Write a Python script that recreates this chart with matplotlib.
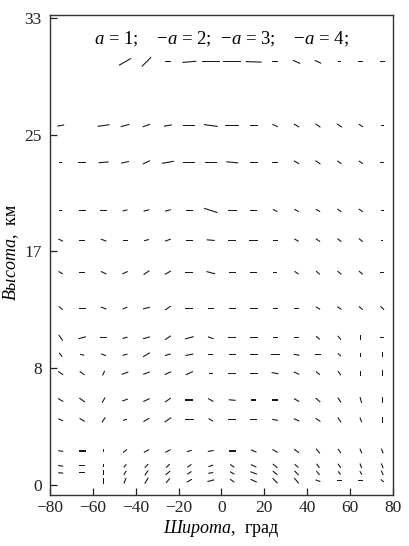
import matplotlib
matplotlib.use('Agg')
import matplotlib.pyplot as plt
import numpy as np

nan = np.nan

# latitude columns, deg
lats = np.arange(-75, 76, 10)

# altitude of each row of segments, km
heights = [29.9, 25.4, 22.8, 19.4, 17.3, 15.0, 12.5, 10.4, 9.2, 7.9,
           6.0, 4.6, 2.4, 1.35, 0.85, 0.3]

# segment tilt (deg, counter-clockwise from horizontal), one list per row
angles = [
    [nan, nan, nan, 30, 45, 0, 5, 0, 0, -2, 0, -25, -25, 0, 0, 0],
    [10, nan, 8, 15, 20, 10, 0, -8, 0, 0, -25, -30, -35, -35, -35, 0],
    [0, 0, 5, 12, 25, 10, 0, 0, -5, 0, 0, -30, -35, -35, -35, 0],
    [0, 0, 0, 15, 15, 15, 0, -18, 0, 0, -25, -30, -30, -35, -35, 0],
    [-25, 0, -20, 0, 15, 20, 0, -5, 0, 0, 0, -30, -35, -40, -40, 0],
    [-30, 0, -25, 25, 35, 30, 0, -15, 0, 0, 0, -35, -40, -40, -40, 0],
    [-40, 0, -20, 25, 12, 35, 0, 0, 0, 0, 0, 0, -30, -35, -40, -45],
    [-55, 15, 0, 15, 15, 35, 15, -20, 0, 0, 0, 0, -40, -50, 90, 0],
    [-50, -15, -20, 15, 30, 15, 10, 0, 0, 0, 0, -10, 0, -40, 90, 90],
    [-35, -35, 65, 20, 20, 25, 25, 0, 0, 0, -10, -25, -40, -55, 90, 90],
    [-30, -35, 60, 20, 25, 35, 0, -30, -5, 0, 0, -30, -40, -55, -75, 90],
    [-25, -30, 55, 15, 30, 35, 0, -30, 0, 0, -10, -25, -35, -55, -70, 90],
    [-10, 0, 90, 40, 28, 28, 15, 10, 0, -22, -30, -35, -50, -55, -68, -68],
    [-10, 0, 90, 50, 45, 45, 35, 20, -35, -25, -40, -40, -55, -55, -70, -70],
    [-5, 0, 90, 60, 55, 40, 35, 10, -30, -20, -40, -45, -50, -50, -60, -65],
    [nan, nan, 90, 70, 60, 50, 30, 15, -35, -25, -45, -50, -20, 0, 0, -40],
]

# segment length (relative, drawn in pixels)
lengths = [
    [nan, nan, nan, 14, 13, 6, 14, 18, 18, 16, 6, 8, 7, 3, 5, 5],
    [7, nan, 12, 9, 8, 8, 12, 14, 14, 8, 6, 6, 6, 6, 5, 3],
    [3, 8, 10, 8, 8, 12, 12, 12, 12, 8, 6, 6, 6, 5, 5, 4],
    [3, 7, 7, 5, 6, 6, 7, 14, 9, 7, 5, 5, 5, 5, 5, 3],
    [5, 6, 6, 5, 5, 6, 7, 8, 8, 9, 5, 5, 5, 5, 5, 2],
    [5, 6, 6, 6, 7, 7, 8, 9, 7, 7, 4, 5, 5, 5, 5, 4],
    [5, 7, 6, 5, 7, 7, 8, 6, 7, 8, 5, 5, 5, 5, 5, 5],
    [7, 8, 7, 5, 7, 7, 9, 6, 8, 8, 5, 5, 5, 5, 5, 4],
    [5, 4, 5, 5, 8, 6, 8, 5, 7, 8, 9, 6, 6, 4, 4, 5],
    [6, 6, 5, 7, 7, 7, 8, 4, 8, 8, 7, 6, 5, 5, 5, 6],
    [6, 7, 6, 6, 7, 7, 8, 6, 7, 5, 6, 6, 6, 6, 6, 6],
    [5, 6, 6, 4, 7, 8, 9, 5, 8, 7, 6, 6, 6, 6, 5, 6],
    [5, 7, 3, 5, 6, 6, 5, 6, 7, 6, 6, 6, 6, 5, 5, 5],
    [5, 6, 3, 4, 5, 5, 5, 5, 5, 6, 6, 5, 5, 5, 5, 5],
    [5, 6, 5, 5, 6, 6, 5, 5, 5, 7, 6, 6, 5, 4, 4, 5],
    [nan, nan, 6, 6, 7, 6, 6, 7, 5, 7, 7, 7, 5, 5, 5, 4],
]

yticks = [0, 8.25, 16.5, 24.75, 33]
ytick_labels = ['0', '8', '17', '25', '33']

plt.rcParams['font.family'] = 'Liberation Serif'
plt.rcParams['mathtext.fontset'] = 'custom'
plt.rcParams['mathtext.rm'] = 'Liberation Serif'
plt.rcParams['mathtext.it'] = 'Liberation Serif:italic'

fig = plt.figure(figsize=(4.1, 5.46), dpi=100)
ax = fig.add_axes([50 / 410, 1 - 495 / 546, 343 / 410, 480 / 546])

X, Y = np.meshgrid(lats, heights)
A = np.radians(np.array(angles, dtype=float))
L = np.array(lengths, dtype=float)
ok = ~np.isnan(A) & ~np.isnan(L)
U = L * np.cos(A)
V = L * np.sin(A)

ax.quiver(X[ok], Y[ok], U[ok], V[ok], angles='uv', scale_units='dots', scale=1,
          units='dots', width=1.1, headwidth=1, headlength=0, headaxislength=0,
          pivot='middle', color='#1a1a1a')

ax.set_xlim(-80, 80)
ax.set_ylim(-0.71, 33.21)
ax.set_xticks(range(-80, 81, 20))
ax.set_yticks(yticks)
ax.set_yticklabels(ytick_labels)
ax.tick_params(direction='in', length=5, width=0.9, labelsize=12.5, colors='#222222')
ax.tick_params(axis='y', pad=6)
for s in ax.spines.values():
    s.set_linewidth(1.0)
    s.set_color('#333333')

legend_text = '$a$ = 1;    \u2212$a$ = 2;  \u2212$a$ = 3;    \u2212$a$ = 4;'
ax.text(0.5, 31.45, legend_text, transform=ax.get_yaxis_transform(),
        ha='center', va='center', fontsize=13.5)

ax.set_xlabel('$\\mathit{Широта}$,  град', fontsize=13)
ax.xaxis.set_label_coords(0.5, -0.048)
ax.set_ylabel('$\\mathit{Высота}$,  км', fontsize=13)
ax.yaxis.set_label_coords(-0.085, 0.506)

fig.savefig('out.png', dpi=100)
